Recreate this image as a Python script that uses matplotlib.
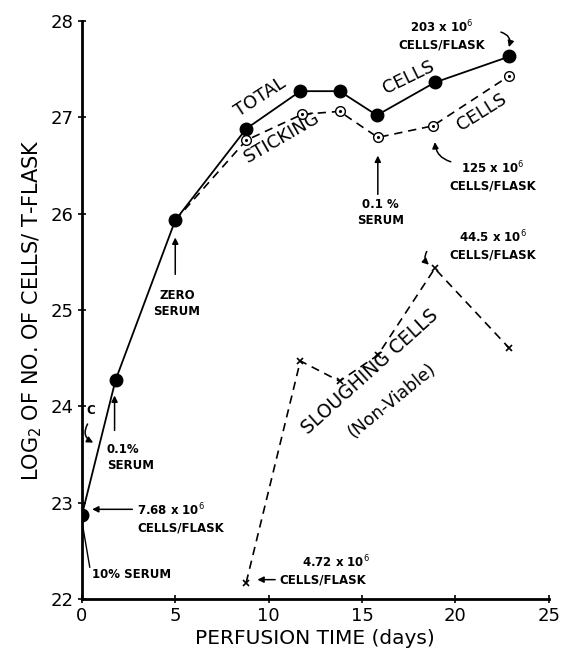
import matplotlib
matplotlib.use("Agg")
import matplotlib.pyplot as plt

# data
total_days = [0, 1.8, 5, 8.8, 11.7, 13.8, 15.8, 18.9, 22.9]
total_log2 = [22.87, 24.27, 25.93, 26.88, 27.27, 27.27, 27.02, 27.36, 27.63]

stick_days = [5, 8.8, 11.8, 13.8, 15.85, 18.8, 22.9]
stick_log2 = [25.93, 26.76, 27.03, 27.06, 26.79, 26.91, 27.43]

slough_days = [8.8, 11.7, 13.8, 15.85, 18.9, 22.9]
slough_log2 = [22.17, 24.47, 24.26, 24.53, 25.43, 24.6]

xticks = [0, 5, 10, 15, 20, 25]
yticks = [22, 23, 24, 25, 26, 27, 28]

plt.rcParams['font.family'] = ['DejaVu Sans']

fig = plt.figure(figsize=(5.61, 6.51), dpi=100)
ax = fig.add_axes([0.146, 0.080, 0.832, 0.888])

ax.plot(total_days, total_log2, '-', color='black', lw=1.3,
        marker='o', ms=9, mfc='black', mec='black', zorder=3)
ax.plot(stick_days[1:], stick_log2[1:], ' ', marker='o', ms=7, mfc='white',
        mec='black', mew=1.0, zorder=4)
ax.plot(stick_days[1:], stick_log2[1:], ' ', marker='.', ms=2.5, color='black', zorder=5)
ax.plot(stick_days, stick_log2, '--', color='black', lw=1.2, dashes=(5, 3.5), zorder=2)
ax.plot(slough_days, slough_log2, '--', color='black', lw=1.2, dashes=(5, 3.5),
        marker='x', ms=4, mew=1.2, mec='black', zorder=3)

ax.set_xlim(0, 25)
ax.set_ylim(22, 28)
ax.set_xticks(xticks)
ax.set_yticks(yticks)
for s in ['top', 'right']:
    ax.spines[s].set_visible(False)
for s in ['left', 'bottom']:
    ax.spines[s].set_linewidth(2.0)
ax.tick_params(direction='inout', length=6, width=1.2, labelsize=13, pad=3)
ax.set_xlabel('PERFUSION TIME (days)', fontsize=14.5, labelpad=3)
ax.set_ylabel('LOG$_2$ OF NO. OF CELLS/ T-FLASK', fontsize=15, labelpad=5)

arrow = dict(arrowstyle='-|>', color='black', lw=1.1, mutation_scale=9)
small = dict(fontsize=8.5, fontweight='bold', ha='center', va='center', linespacing=1.3)

# curve labels
ax.text(9.55, 27.21, 'TOTAL', fontsize=13, rotation=33, ha='center', va='center')
ax.text(17.5, 27.41, 'CELLS', fontsize=13, rotation=26, ha='center', va='center')
ax.text(10.7, 26.79, 'STICKING', fontsize=13, rotation=30, ha='center', va='center')
ax.text(21.4, 27.05, 'CELLS', fontsize=13, rotation=32, ha='center', va='center')
ax.text(15.45, 24.36, 'SLOUGHING CELLS', fontsize=13.5, rotation=42, ha='center', va='center')
ax.text(16.6, 24.06, '(Non-Viable)', fontsize=12.5, rotation=39, ha='center', va='center')

# arrows and notes
ax.annotate('', xy=(15.85, 26.63), xytext=(15.85, 26.17), arrowprops=arrow)
ax.text(16.0, 26.01, '0.1 %\nSERUM', **small)

ax.annotate('', xy=(18.9, 26.77), xytext=(19.9, 26.53),
            arrowprops=dict(arrow, connectionstyle='arc3,rad=-0.4'))
ax.text(22.0, 26.39, '125 x 10$^6$\nCELLS/FLASK', **small)

ax.annotate('', xy=(22.82, 27.70), xytext=(22.3, 27.89),
            arrowprops=dict(arrow, connectionstyle='arc3,rad=-0.6'))
ax.text(19.3, 27.85, '203 x 10$^6$\nCELLS/FLASK', **small)

ax.annotate('', xy=(18.7, 25.45), xytext=(18.55, 25.63),
            arrowprops=dict(arrow, connectionstyle='arc3,rad=0.5'))
ax.text(22.0, 25.67, '44.5 x 10$^6$\nCELLS/FLASK', **small)

ax.annotate('', xy=(5.0, 25.78), xytext=(5.0, 25.34), arrowprops=arrow)
ax.text(5.1, 25.07, 'ZERO\nSERUM', **small)

ax.annotate('', xy=(1.75, 24.14), xytext=(1.75, 23.72), arrowprops=arrow)
ax.text(1.33, 23.47, '0.1%\nSERUM', fontsize=8.5, fontweight='bold', ha='left',
        va='center', linespacing=1.3)

ax.text(0.48, 23.96, 'C', fontsize=8.5, fontweight='bold', ha='center', va='center')
ax.annotate('', xy=(0.74, 23.61), xytext=(0.38, 23.84),
            arrowprops=dict(arrow, connectionstyle='arc3,rad=0.6'))

ax.annotate('', xy=(0.4, 22.93), xytext=(2.85, 22.93), arrowprops=arrow)
ax.text(2.97, 22.84, '7.68 x 10$^6$\nCELLS/FLASK', fontsize=8.5, fontweight='bold',
        ha='left', va='center', linespacing=1.3)

ax.plot([0.05, 0.42], [22.75, 22.33], color='black', lw=1.0)
ax.text(0.53, 22.25, '10% SERUM', fontsize=8.5, fontweight='bold', ha='left', va='center')

ax.annotate('', xy=(9.25, 22.2), xytext=(10.5, 22.2), arrowprops=arrow)
ax.text(13.6, 22.38, '4.72 x 10$^6$', fontsize=8.5, fontweight='bold', ha='center', va='center')
ax.text(10.6, 22.2, 'CELLS/FLASK', fontsize=8.5, fontweight='bold', ha='left', va='center')

fig.savefig('out.png', dpi=100)
